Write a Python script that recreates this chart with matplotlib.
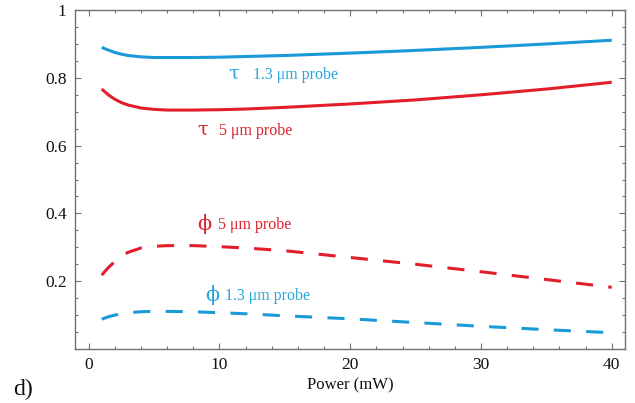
import matplotlib
matplotlib.use("Agg")
import matplotlib.pyplot as plt
from matplotlib.ticker import MultipleLocator, FixedLocator

plt.rcParams['font.family'] = ['Liberation Serif', 'DejaVu Serif']

power = [1, 1.5, 2, 2.5, 3, 4, 5, 6, 8, 10, 12, 15, 20, 25, 30, 35, 40]
tau_13 = [0.890, 0.882, 0.875, 0.870, 0.866, 0.862, 0.860, 0.860, 0.860, 0.861, 0.863, 0.866, 0.873, 0.881, 0.890, 0.900, 0.911]
tau_5 = [0.767, 0.750, 0.737, 0.727, 0.720, 0.711, 0.707, 0.705, 0.705, 0.706, 0.708, 0.713, 0.723, 0.735, 0.750, 0.767, 0.787]
phi_5 = [0.218, 0.240, 0.258, 0.273, 0.285, 0.298, 0.303, 0.305, 0.305, 0.302, 0.298, 0.290, 0.270, 0.250, 0.228, 0.205, 0.182]
phi_13 = [0.088, 0.095, 0.100, 0.104, 0.107, 0.110, 0.111, 0.111, 0.110, 0.107, 0.104, 0.098, 0.089, 0.078, 0.067, 0.057, 0.048]

greek = ["τ", "τ", "ϕ", "ϕ"]
labels = ["1.3 μm probe", "5 μm probe", "5 μm probe", "1.3 μm probe"]
greek_pos = [(10.65, 0.812), (8.3, 0.648), (8.3, 0.370), (8.9, 0.160)]
label_pos = [(12.55, 0.807), (10.0, 0.643), (9.9, 0.367), (10.4, 0.157)]

blue = '#1a9ad8'
red = '#e31e2a'
blue_txt = '#2aa6d6'
red_txt = '#e0202c'

fig = plt.figure(figsize=(6.35, 4.03), dpi=100)
ax = fig.add_axes([0.118, 0.134, 0.866, 0.841])

lw = 2.2
ax.plot(power, tau_13, color=blue, lw=lw, solid_capstyle='butt')
ax.plot(power, tau_5, color=red, lw=lw, solid_capstyle='butt')
ax.plot(power, phi_5, color=red, lw=lw, dashes=(5.6, 5.0), dash_capstyle='butt')
ax.plot(power, phi_13, color=blue, lw=lw, dashes=(5.6, 5.0), dash_capstyle='butt')

cols = [blue_txt, red_txt, red_txt, blue_txt]
gsizes = [14, 14, 15, 15]
for g, t, gp, lp, c, gs in zip(greek, labels, greek_pos, label_pos, cols, gsizes):
    ax.text(gp[0], gp[1], g, color=c, fontsize=gs, va='center', ha='left',
            family=['DejaVu Serif'])
    ax.text(lp[0], lp[1], t, color=c, fontsize=11.5, va='center', ha='left')

ax.set_xlim(-1.05, 41)
ax.set_ylim(0, 1)
ax.xaxis.set_major_locator(FixedLocator([0, 10, 20, 30, 40]))
ax.xaxis.set_minor_locator(MultipleLocator(2))
ax.yaxis.set_major_locator(FixedLocator([0.2, 0.4, 0.6, 0.8, 1.0]))
ax.yaxis.set_minor_locator(MultipleLocator(0.05))
ax.set_yticklabels(['0.2', '0.4', '0.6', '0.8', '1'])

for s in ax.spines.values():
    s.set_color('#707070')
    s.set_linewidth(1.0)
ax.tick_params(which='both', direction='in', top=True, right=True, color='#707070', labelsize=12.5, labelcolor='#111111')
ax.tick_params(which='major', length=4, width=0.8, pad=6)
ax.tick_params(which='minor', length=2.5, width=0.8)

ax.set_xlabel('Power (mW)', fontsize=12, labelpad=3, color='#111111')
fig.text(0.02, 0.02, 'd)', fontsize=17, color='#111111')

fig.savefig('out.png', dpi=100)
